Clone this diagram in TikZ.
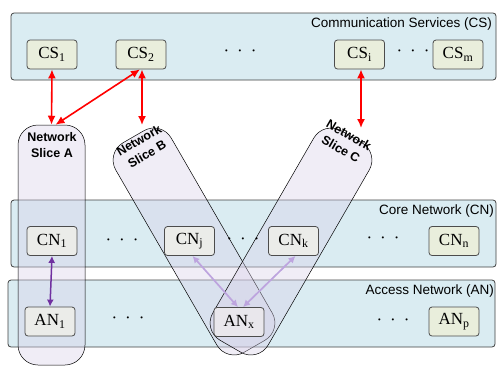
\documentclass[tikz,border=0pt]{standalone}
\usepackage{fontspec}
\newfontfamily\labfont{Liberation Sans}
\newfontfamily\boxfont{Liberation Serif}
\usetikzlibrary{arrows.meta}
\definecolor{bandfill}{HTML}{DAECF2}
\definecolor{boxfill}{HTML}{E9EEDC}
\definecolor{boxinfill}{HTML}{EBECE9}
\definecolor{boxxfill}{HTML}{E9E7EC}
\definecolor{slicefill}{HTML}{D8D0E8}
\definecolor{darkpurple}{HTML}{7030A0}
\definecolor{lightpurple}{HTML}{BDA4DE}
\newcommand\mydots{\textperiodcentered\hspace{8pt}\textperiodcentered\hspace{8pt}\textperiodcentered}
\begin{document}
\begin{tikzpicture}[x=1pt,y=-1pt,
  band/.style={draw=black!75, fill=bandfill, rounded corners=3pt, line width=0.8pt, inner sep=0pt},
  box/.style={draw=black!70, fill=boxfill, rounded corners=3pt, line width=0.8pt, minimum width=50pt, minimum height=29pt, inner sep=0pt, font=\boxfont\fontsize{17}{19}\selectfont},
  boxin/.style={box, fill=boxinfill},
  boxx/.style={box, fill=boxxfill},
  slice/.style={draw=black, line width=0.5pt, fill=slicefill, fill opacity=0.38, rounded corners=20pt, inner sep=0pt},
  slicetext/.style={font=\labfont\bfseries\fontsize{12.5}{16}\selectfont, align=center, inner sep=0pt},
  bandlabel/.style={font=\labfont\fontsize{13.5}{15}\selectfont, anchor=east, inner sep=0pt},
  dotsnode/.style={font=\boxfont\fontsize{17}{19}\selectfont, inner sep=0pt},
  redarrow/.style={draw=red, line width=1.6pt, {Latex[length=9pt,width=8pt]}-{Latex[length=9pt,width=8pt]}},
  purplearrow/.style={draw=darkpurple, line width=1.5pt, {Latex[length=7pt,width=7pt]}-{Latex[length=7pt,width=7pt]}},
  lightarrow/.style={draw=lightpurple, line width=1.7pt, {Latex[length=7pt,width=7pt]}-{Latex[length=7pt,width=7pt]}}]
\useasboundingbox (0,0) rectangle (497,365);

% bands
\node[band, minimum width=485, minimum height=67] (csband) at (253.5,46.5) {};
\node[band, minimum width=485, minimum height=67] (cnband) at (253.5,233.5) {};
\node[band, minimum width=487, minimum height=67] (anband) at (251.5,313.5) {};

\node[bandlabel] (cslabel) at (492,24) {Communication Services (CS)};
\node[bandlabel] (cnlabel) at (494,211) {Core Network (CN)};
\node[bandlabel] (anlabel) at (494,291) {Access Network (AN)};

% slices
\node[slice, minimum width=67, minimum height=240] (sliceA) at (51.5,245) {};
\node[slice, minimum width=64, minimum height=242, rotate=30] (sliceB) at (194,241.5) {};
\node[slice, minimum width=64, minimum height=242, rotate=-30] (sliceC) at (291,241.5) {};

\node[slicetext] (labA) at (52,145) {Network\\Slice A};
\node[slicetext, rotate=30] (labB) at (143,147) {Network\\Slice B};
\node[slicetext, rotate=-30] (labC) at (345,142) {Network\\Slice C};

% boxes
\node[box] (CS1) at (52,54.5) {CS\textsubscript{1}};
\node[box] (CS2) at (141,54.5) {CS\textsubscript{2}};
\node[box] (CSi) at (359.5,54.5) {CS\textsubscript{i}};
\node[box] (CSm) at (458,54.5) {CS\textsubscript{m}};

\node[boxin] (CN1) at (52,241) {CN\textsubscript{1}};
\node[boxin] (CNj) at (189.5,241) {CN\textsubscript{j}};
\node[boxin] (CNk) at (293.5,241) {CN\textsubscript{k}};
\node[box] (CNn) at (454,241) {CN\textsubscript{n}};

\node[boxin] (AN1) at (50,321.5) {AN\textsubscript{1}};
\node[boxx] (ANx) at (239,322) {AN\textsubscript{x}};
\node[box] (ANp) at (454,321.5) {AN\textsubscript{p}};

% dots
\node[dotsnode] (dcs1) at (240,53) {\mydots};
\node[dotsnode] (dcs2) at (413,53) {\mydots};
\node[dotsnode] (dcn1) at (122,242) {\mydots};
\node[dotsnode] (dcn2) at (243,241) {\mydots};
\node[dotsnode] (dcn3) at (383,240) {\mydots};
\node[dotsnode] (dan1) at (128,320) {\mydots};
\node[dotsnode] (dan2) at (393,322) {\mydots};

% red arrows
\coordinate (Btop) at (142,125);
\coordinate (Ctop) at (361,128);
\draw[redarrow] (CS1.south) -- (sliceA.north);
\draw[redarrow] ([xshift=-1pt]CS2.south) -- ([xshift=4pt]sliceA.north);
\draw[redarrow] (CS2.south -| Btop) -- (Btop);
\draw[redarrow] (CSi.south -| Ctop) -- (Ctop);

% purple arrows
\draw[purplearrow] (CN1.south) -- (AN1.north);
\draw[lightarrow] ([xshift=3pt]CNj.south) -- ([xshift=-1pt]ANx.north);
\draw[lightarrow] ([xshift=2pt]CNk.south) -- ([xshift=4pt]ANx.north);
\end{tikzpicture}
\end{document}
